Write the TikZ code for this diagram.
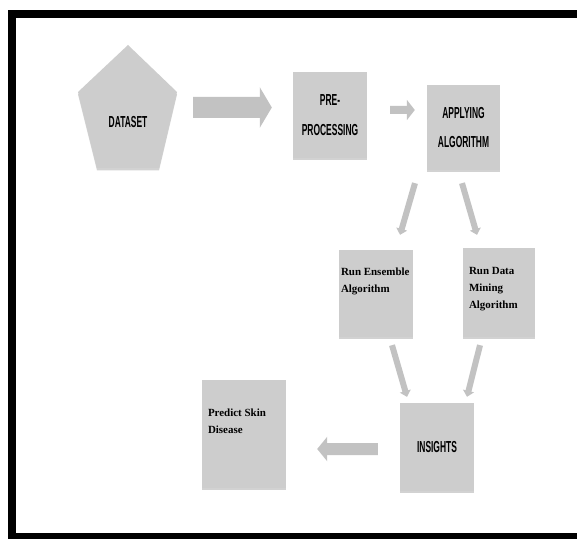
\documentclass[tikz,border=0pt]{standalone}
\usepackage{fontspec}
\setmainfont{Liberation Serif}
\newfontfamily\capfont[FakeStretch=0.53]{Liberation Sans}
\usepackage{tikz}
\usetikzlibrary{positioning, arrows.meta, calc, shadows}

\definecolor{boxgray}{HTML}{CDCDCD}
\definecolor{arrowgray}{HTML}{C2C2C2}

\tikzset{
    stepbox/.style={fill=boxgray, draw=none, inner sep=0pt,
        drop shadow={shadow xshift=0pt, shadow yshift=-2.5pt, opacity=.35}},
    captext/.style={font={\capfont\bfseries\fontsize{16}{30}\selectfont}, align=center},
    boxtext/.style={font={\bfseries\fontsize{11}{17}\selectfont}, align=left, inner sep=0pt, anchor=north west},
    bigarrow/.style={draw=arrowgray, line width=21bp, -{Triangle[length=12bp, width=40bp]}},
    midarrow/.style={draw=arrowgray, line width=8bp, -{Triangle[length=8bp, width=20bp]}},
    slimarrow/.style={draw=arrowgray, line width=6bp, -{Triangle[length=6bp, width=11bp]}},
    backarrow/.style={draw=arrowgray, line width=12bp, -{Triangle[length=10bp, width=24bp]}}
}

\begin{document}
\begin{tikzpicture}[x=1bp, y=-1bp]
    \fill [white] (0,0) rectangle (577,539);
    \useasboundingbox (0,0) rectangle (577,539);
    % Frame
    \fill (8,10) rectangle (577,18);
    \fill (8,10) rectangle (16,539);
    \fill (8,533) rectangle (577,539);
    % Dataset
    \fill [boxgray, drop shadow={shadow xshift=0pt, shadow yshift=-2.5pt, opacity=.35}]
        (128,45) -- (177,92) -- (159,168) -- (97,168) -- (78,92) -- cycle;
    \node [captext, minimum width=99bp, inner sep=0pt] (data) at (128,122) {DATASET};
    % Boxes
    \node [stepbox, minimum width=74bp, minimum height=86bp, captext] (pre) at (330,115) {PRE-\\PROCESSING};
    \node [stepbox, minimum width=73bp, minimum height=85bp, captext] (apply) at (463.5,127.5) {APPLYING\\ALGORITHM};
    \node [stepbox, minimum width=74bp, minimum height=87bp] (ens) at (376,293.5) {};
    \node [stepbox, minimum width=72bp, minimum height=89bp] (mine) at (499,292.5) {};
    \node [stepbox, minimum width=74bp, minimum height=88bp, captext] (ins) at (437,447) {INSIGHTS};
    \node [stepbox, minimum width=84bp, minimum height=108bp] (pred) at (244,434) {};
    \node [boxtext] (enstext) at ([xshift=2bp, yshift=-18bp]ens.north west) {Run Ensemble\\Algorithm};
    \node [boxtext] (minetext) at ([xshift=6bp, yshift=-19bp]mine.north west) {Run Data\\Mining\\Algorithm};
    \node [boxtext] (predtext) at ([xshift=6bp, yshift=-29bp]pred.north west) {Predict Skin\\Disease};
    % Arrows
    \draw [bigarrow, shorten <=15.5bp, shorten >=21bp] ([yshift=14.5bp]data.east) -- ([yshift=7.5bp]pre.west);
    \draw [midarrow, shorten <=23bp, shorten >=12bp] ([yshift=5bp]pre.east) -- ([yshift=17.5bp]apply.west);
    \draw [slimarrow, shorten <=13.5bp, shorten >=15.6bp] ([xshift=-44.75bp]apply.south) -- ([xshift=19.7bp]ens.north);
    \draw [slimarrow, shorten <=13.5bp, shorten >=13.5bp] ([xshift=-5.25bp]apply.south) -- ([xshift=-18.25bp]mine.north);
    \draw [slimarrow, shorten <=8.3bp, shorten >=6.2bp] ([xshift=13.7bp]ens.south) -- ([xshift=-28.3bp]ins.north);
    \draw [slimarrow, shorten <=8.2bp, shorten >=6.2bp] ([xshift=-17bp]mine.south) -- ([xshift=28.5bp]ins.north);
    \draw [backarrow, shorten <=22bp, shorten >=31bp] ([yshift=-2bp]ins.west) -- ([yshift=-15bp]pred.east);
\end{tikzpicture}
\end{document}
